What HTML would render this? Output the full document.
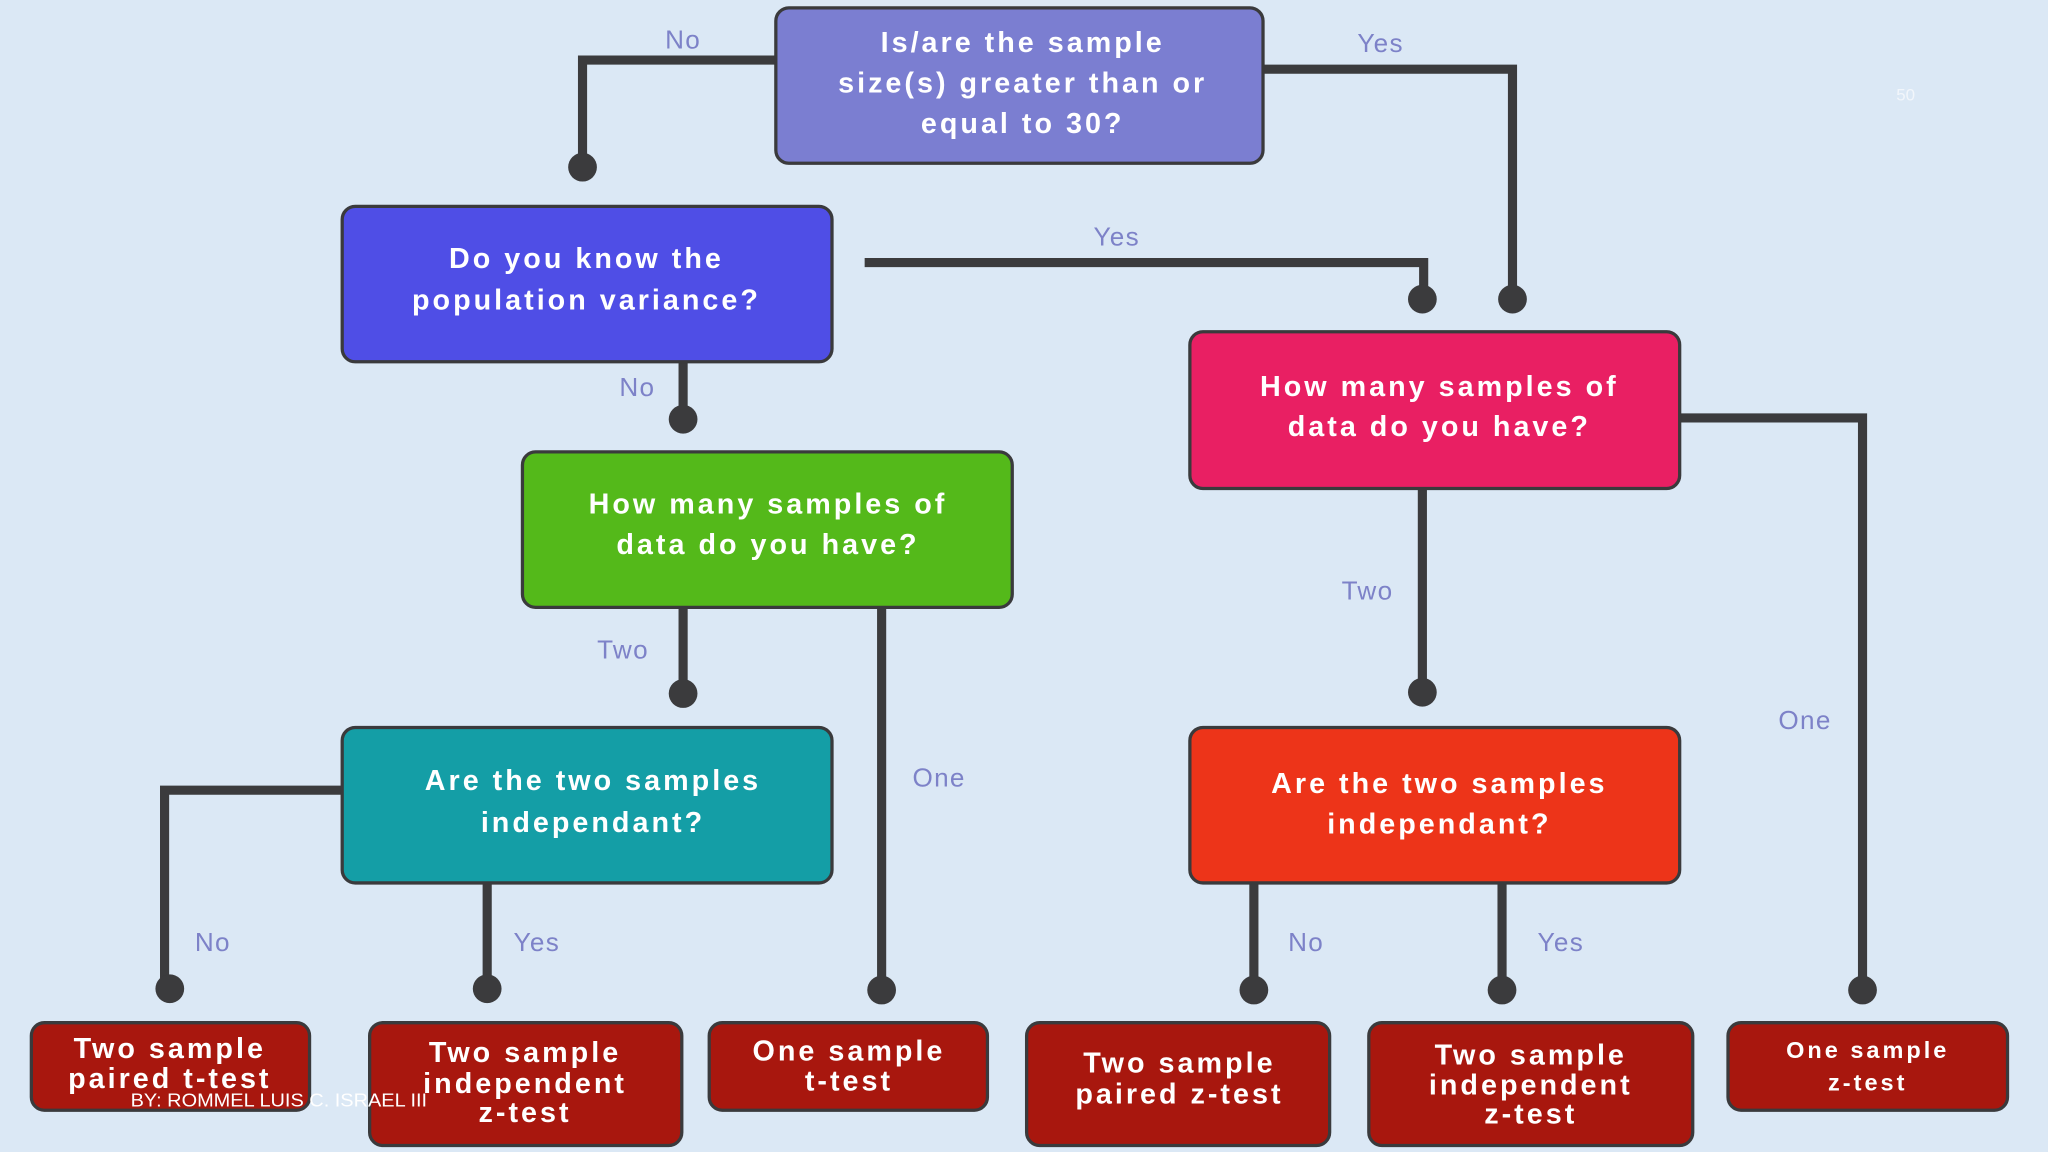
<!DOCTYPE html>
<html><head><meta charset="utf-8"><style>
html,body{margin:0;padding:0;background:#dbe8f5;}
svg{display:block;}
.t{font-family:"Liberation Sans",sans-serif;font-weight:bold;fill:#fff;text-anchor:middle;font-size:22px;letter-spacing:2.3px;}
.l{font-family:"Liberation Sans",sans-serif;fill:#7d82c8;text-anchor:middle;font-size:20px;letter-spacing:1px;}
.c{stroke:#3b3b3d;stroke-width:7;fill:none;}
.b{stroke:#3a3a3c;stroke-width:2.5;}
</style></head><body>
<svg width="2048" height="1152" viewBox="0 0 1568 882" xmlns="http://www.w3.org/2000/svg">
<rect width="1568" height="882" fill="#dbe8f5"/>
<g class="c">
<polyline points="594,46 446,46 446,128"/>
<polyline points="967,53 1158,53 1158,229"/>
<polyline points="662,201 1090,201 1090,229"/>
<polyline points="523,277 523,321"/>
<polyline points="1286,320 1426,320 1426,758"/>
<polyline points="1089,374 1089,530"/>
<polyline points="523,465 523,531"/>
<polyline points="675,465 675,758"/>
<polyline points="262,605 126,605 126,757"/>
<polyline points="373,676 373,757"/>
<polyline points="960,676 960,758"/>
<polyline points="1150,676 1150,758"/>
</g>
<g fill="#3b3b3d">
<circle cx="446" cy="128" r="11"/><circle cx="1158" cy="229" r="11"/><circle cx="1089" cy="229" r="11"/>
<circle cx="523" cy="321" r="11"/><circle cx="1426" cy="758" r="11"/><circle cx="1089" cy="530" r="11"/>
<circle cx="523" cy="531" r="11"/><circle cx="675" cy="758" r="11"/><circle cx="130" cy="757" r="11"/>
<circle cx="373" cy="757" r="11"/><circle cx="960" cy="758" r="11"/><circle cx="1150" cy="758" r="11"/>
</g>
<g class="b">
<rect x="594" y="6" width="373" height="119" rx="10" fill="#7b7ed1"/>
<rect x="262" y="158" width="375" height="119" rx="10" fill="#4f4ee6"/>
<rect x="400" y="346" width="375" height="119" rx="10" fill="#54b91a"/>
<rect x="911" y="254" width="375" height="120" rx="10" fill="#e91f63"/>
<rect x="262" y="557" width="375" height="119" rx="10" fill="#149ea6"/>
<rect x="911" y="557" width="375" height="119" rx="10" fill="#ed3419"/>
<rect x="24" y="783" width="213" height="67" rx="10" fill="#a8170e"/>
<rect x="283" y="783" width="239" height="94" rx="10" fill="#a8170e"/>
<rect x="543" y="783" width="213" height="67" rx="10" fill="#a8170e"/>
<rect x="786" y="783" width="232" height="94" rx="10" fill="#a8170e"/>
<rect x="1048" y="783" width="248" height="94" rx="10" fill="#a8170e"/>
<rect x="1323" y="783" width="214" height="67" rx="10" fill="#a8170e"/>
</g>
<g class="t">
<text x="783" y="40">Is/are the sample</text><text x="783" y="71">size(s) greater than or</text><text x="783" y="102">equal to 30?</text>
<text x="449" y="205">Do you know the</text><text x="449" y="237">population variance?</text>
<text x="588" y="393">How many samples of</text><text x="588" y="424">data do you have?</text>
<text x="1102" y="303">How many samples of</text><text x="1102" y="334">data do you have?</text>
<text x="454" y="605">Are the two samples</text><text x="454" y="637">independant?</text>
<text x="1102" y="607">Are the two samples</text><text x="1102" y="638">independant?</text>
<text x="130" y="810">Two sample</text><text x="130" y="833">paired t-test</text>
<text x="402" y="813">Two sample</text><text x="402" y="837">independent</text><text x="402" y="859">z-test</text>
<text x="650" y="812">One sample</text><text x="650" y="835">t-test</text>
<text x="903" y="821">Two sample</text><text x="903" y="845">paired z-test</text>
<text x="1172" y="815">Two sample</text><text x="1172" y="838">independent</text><text x="1172" y="860">z-test</text>
<text x="1430" y="810" style="font-size:18px">One sample</text><text x="1430" y="835" style="font-size:18px">z-test</text>
</g>
<g class="l">
<text x="523" y="37">No</text><text x="1057" y="40">Yes</text><text x="855" y="188">Yes</text>
<text x="488" y="303">No</text><text x="1047" y="459">Two</text><text x="477" y="504">Two</text>
<text x="719" y="602">One</text><text x="1382" y="558">One</text>
<text x="163" y="728">No</text><text x="411" y="728">Yes</text><text x="1000" y="728">No</text><text x="1195" y="728">Yes</text>
</g>
<text x="1459" y="77" style="font-family:'Liberation Sans',sans-serif;font-size:13px;fill:#f2f6fb;text-anchor:middle">50</text>
<text x="100" y="847" style="font-family:'Liberation Sans Narrow','Liberation Sans',sans-serif;font-size:14px;fill:#fff;" textLength="227" lengthAdjust="spacingAndGlyphs">BY: ROMMEL LUIS C. ISRAEL III</text>
</svg>
</body></html>
